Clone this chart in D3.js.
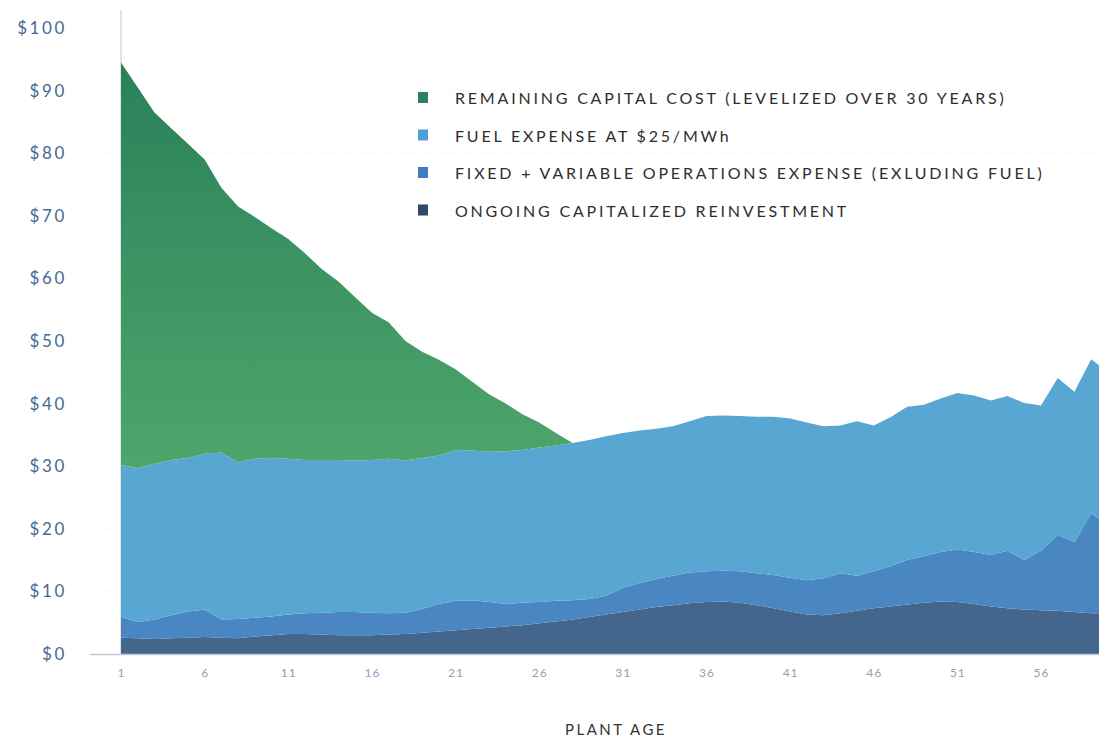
<!DOCTYPE html>
<html>
<head>
<meta charset="utf-8">
<script src="https://cdn.jsdelivr.net/npm/d3@7"></script>
<style>
  html, body { margin: 0; padding: 0; background: #fff; }
  svg { display: block; }
  text { font-family: Lato, "Open Sans", sans-serif; }
</style>
</head>
<body>
<svg id="chart" width="1099" height="738"></svg>
<script>
// ---- data ----
const years = d3.range(1, 61);
const reinvestment = [2.6,2.5,2.4,2.5,2.6,2.7,2.6,2.5,2.8,3.0,3.2,3.2,3.1,3.0,3.0,3.0,3.1,3.2,3.4,3.6,
  3.8,4.0,4.2,4.4,4.6,4.9,5.2,5.5,5.9,6.3,6.7,7.1,7.5,7.8,8.1,8.3,8.4,8.2,7.8,7.3,
  6.8,6.3,6.2,6.5,6.9,7.3,7.6,7.9,8.2,8.4,8.3,8.0,7.6,7.3,7.1,7.0,6.9,6.7,6.5,6.5];
const operations = [3.3,2.6,3.1,3.7,4.2,4.4,2.9,3.1,3.0,3.0,3.1,3.3,3.5,3.7,3.7,3.6,3.4,3.4,3.8,4.4,
  4.7,4.6,4.1,3.6,3.6,3.4,3.3,3.1,2.9,3.0,3.9,4.2,4.5,4.7,4.9,4.9,4.9,5.0,5.1,5.3,
  5.4,5.5,5.9,6.4,5.6,5.9,6.4,7.1,7.4,7.9,8.4,8.3,8.2,9.2,7.9,9.5,12.1,11.2,16.0,14.0];
const fuel = [24.3,24.6,24.9,24.8,24.5,24.9,26.7,25.0,25.4,25.3,24.9,24.5,24.4,24.3,24.2,24.4,24.7,24.3,24.1,23.7,
  24.1,23.9,24.0,24.4,24.4,24.7,24.8,25.1,25.4,25.5,24.7,24.4,24.0,23.9,24.2,24.8,24.8,24.8,25.0,25.3,
  25.4,25.2,24.3,23.6,24.7,23.3,23.8,24.5,24.2,24.5,25.0,25.0,24.7,24.7,25.1,23.2,25.1,24.0,24.6,24.5];
const capital = [64.3,60.8,56.1,53.0,50.2,47.0,42.3,40.9,38.6,36.7,35.1,33.0,30.5,28.5,26.1,23.5,21.8,19.1,17.0,15.3,
  12.9,11.0,9.2,7.6,5.7,4.0,2.0,0,0,0,0,0,0,0,0,0,0,0,0,0,
  0,0,0,0,0,0,0,0,0,0,0,0,0,0,0,0,0,0,0,0];
const yTicks = [0,10,20,30,40,50,60,70,80,90,100];
const xTicks = [1,6,11,16,21,26,31,36,41,46,51,56];
const seriesKeys = ["reinvestment","operations","fuel","capital"];
const legendLabels = [
  ["capital","REMAINING CAPITAL COST (LEVELIZED OVER 30 YEARS)"],
  ["fuel","FUEL EXPENSE AT $25/MWh"],
  ["operations","FIXED + VARIABLE OPERATIONS EXPENSE (EXLUDING FUEL)"],
  ["reinvestment","ONGOING CAPITALIZED REINVESTMENT"]
];
const xTitle = "PLANT AGE";

// ---- build ----
const table = years.map((yr, i) => ({
  year: yr,
  reinvestment: reinvestment[i],
  operations: operations[i],
  fuel: fuel[i],
  capital: capital[i]
}));

const areaColors = {
  capital: "url(#capGrad)",
  fuel: "#58a7d3",
  operations: "#4a86c2",
  reinvestment: "#44668c"
};
const legendColors = {
  capital: "#2f7f5c",
  fuel: "#4fa0d8",
  operations: "#3f7dc0",
  reinvestment: "#30496b"
};

const svg = d3.select("#chart");
const W = 1099, H = 738;
const x = d3.scaleLinear().domain([1, 56]).range([121, 1041]);
const y = d3.scaleLinear().domain([0, 100]).range([654, 28]);

const defs = svg.append("defs");
const grad = defs.append("linearGradient").attr("id", "capGrad")
  .attr("x1", 0).attr("y1", 0).attr("x2", 0).attr("y2", 1);
grad.append("stop").attr("offset", "0%").attr("stop-color", "#2a8059");
grad.append("stop").attr("offset", "100%").attr("stop-color", "#4ea66c");
defs.append("clipPath").attr("id", "plotClip").append("rect")
  .attr("x", 121).attr("y", 0).attr("width", W - 121).attr("height", 654);

// gridlines (faint dotted)
svg.append("g").selectAll("line").data(yTicks.filter(d => d > 0)).join("line")
  .attr("x1", 95).attr("x2", W)
  .attr("y1", d => y(d)).attr("y2", d => y(d))
  .attr("stroke", "#c9ccd2").attr("stroke-width", 1)
  .attr("stroke-dasharray", "1,4").attr("opacity", 0.45);

// vertical axis line
svg.append("line").attr("x1", 121).attr("x2", 121).attr("y1", 10).attr("y2", 654)
  .attr("stroke", "#c8c8cc").attr("stroke-width", 1);

const stack = d3.stack().keys(seriesKeys);
const layers = stack(table);
const area = d3.area()
  .x(d => x(d.data.year))
  .y0(d => y(d[0]))
  .y1(d => y(d[1]))
  .curve(d3.curveLinear);

svg.append("g").attr("clip-path", "url(#plotClip)")
  .selectAll("path").data(layers).join("path")
  .attr("d", area)
  .attr("fill", d => areaColors[d.key]);

// baseline
svg.append("line").attr("x1", 90).attr("x2", W).attr("y1", 654.5).attr("y2", 654.5)
  .attr("stroke", "#c6c4d4").attr("stroke-width", 1.5);

// y axis labels
const yAxis = d3.axisLeft(y).tickValues(yTicks).tickSize(0).tickPadding(0)
  .tickFormat(d => "$" + d);
const gy = svg.append("g").attr("transform", "translate(67,0)").call(yAxis);
gy.select(".domain").remove();
gy.selectAll("text")
  .attr("fill", "#456a92").attr("font-size", 17).attr("letter-spacing", "2.6px")
  .attr("font-family", "Lato, sans-serif");

// x axis labels
const xAxis = d3.axisBottom(x).tickValues(xTicks).tickSize(0).tickPadding(0)
  .tickFormat(d3.format("d"));
const gx = svg.append("g").attr("transform", "translate(0,668)").call(xAxis);
gx.select(".domain").remove();
gx.selectAll("text")
  .attr("fill", "#8ea2b6").attr("font-size", 12).attr("letter-spacing", "1px")
  .attr("font-family", "Lato, sans-serif");

// x title
svg.append("text").attr("x", 616).attr("y", 735)
  .attr("text-anchor", "middle").attr("font-size", 15).attr("letter-spacing", "2.5px")
  .attr("fill", "#333").text(xTitle);

// legend
const lg = svg.append("g");
legendLabels.forEach(([key, label], i) => {
  const cy = 98 + i * 37.5;
  lg.append("rect").attr("x", 418).attr("y", cy - 6).attr("width", 10).attr("height", 11)
    .attr("fill", legendColors[key]);
  lg.append("text").attr("x", 455).attr("y", cy + 6)
    .attr("font-size", 16).attr("letter-spacing", "2.8px")
    .attr("fill", "#2e2e2e").text(label);
});
</script>
</body>
</html>
